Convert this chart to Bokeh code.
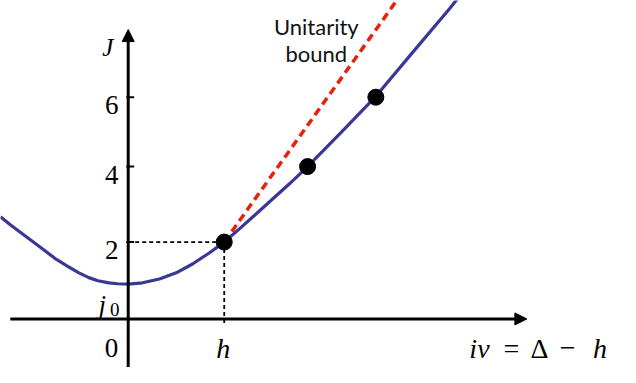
from bokeh.plotting import figure
from bokeh.models import Range1d, Arrow, NormalHead
from bokeh.core.properties import value
from bokeh.embed import file_html
from bokeh.resources import INLINE

# ---- data (x in units of h, y in units of J) ----
curve_x = [-1.33, -1.228, -1.11, -0.995, -0.87, -0.751, -0.63, -0.518, -0.41, -0.315,
           -0.2, -0.112, 0.0, 0.15, 0.325, 0.5, 0.67, 0.84, 1.0, 1.17, 1.34,
           1.685, 1.868, 2.223, 2.579, 2.934, 3.355, 3.45]
curve_J = [2.66, 2.451, 2.23, 2.015, 1.78, 1.554, 1.37, 1.205, 1.075, 0.995,
           0.94, 0.915, 0.905, 0.94, 1.04, 1.2, 1.43, 1.71, 2.0, 2.37, 2.751,
           3.53, 3.965, 4.87, 5.793, 6.853, 8.1, 8.4]

dots_x = [1.0, 1.868, 2.579]
dots_J = [2.0, 3.965, 5.77]

bound_x = [1.0, 2.80]
bound_J = [2.0, 8.3]

ytick_pos = [2.0, 3.965, 5.77]
ytick_labels = ["2", "4", "6"]

h_pos = 1.0
j0_val = 0.905

SERIF = value("'Liberation Serif', 'DejaVu Serif', serif")
SANS = value("Lato")

p = figure(width=620, height=367, output_backend="svg", toolbar_location=None,
           x_range=Range1d(-1.330, 5.127), y_range=Range1d(-1.264, 8.287),
           min_border=0)
p.xaxis.visible = False
p.yaxis.visible = False
p.grid.visible = False
p.outline_line_color = None
p.background_fill_color = "white"
p.border_fill_color = "white"

# axes with arrow heads
p.add_layout(Arrow(end=NormalHead(size=12, fill_color="black", line_color="black", line_width=1),
                   x_start=-1.228, y_start=0, x_end=4.152, y_end=0,
                   line_width=3, line_color="black"))
p.add_layout(Arrow(end=NormalHead(size=12, fill_color="black", line_color="black", line_width=1),
                   x_start=0, y_start=-1.4, x_end=0, y_end=7.53,
                   line_width=3, line_color="black"))

# ticks on J axis
p.segment(x0=[-0.02] * len(ytick_pos), x1=[0.062] * len(ytick_pos),
          y0=ytick_pos, y1=ytick_pos, line_width=2, line_color="black")

# dotted guide lines to (h, 2)
p.line([0, h_pos], [2.0, 2.0], line_color="black", line_width=1.8, line_dash="4 3")
p.line([h_pos, h_pos], [2.0, -0.15], line_color="black", line_width=1.8, line_dash="4 3")

# Regge trajectory curve
p.line(curve_x, curve_J, line_color="#3a3896", line_width=3.2, line_join="round")

# unitarity bound
p.line(bound_x, bound_J, line_color="#e8200c", line_width=3.5, line_dash="8 5")

# points
p.scatter(dots_x, dots_J, size=16, marker="circle", fill_color="black", line_color="black")

# tick labels on J axis
p.text(x=[-0.102] * 3, y=[v - 0.21 for v in ytick_pos], text=ytick_labels,
       text_font=SERIF, text_font_size="27px", text_align="right",
       text_baseline="alphabetic", text_color="black")

# J axis title
p.text(x=[-0.213], y=[7.057], text=["J"], text_font=SERIF, text_font_style="italic",
       text_font_size="25px", text_align="center", text_baseline="alphabetic")

# j0 label
p.text(x=[-0.31], y=[j0_val - 0.53], text=["j"], text_font=SERIF, text_font_style="italic",
       text_font_size="27px", text_align="left", text_baseline="alphabetic")
p.text(x=[-0.19], y=[j0_val - 0.65], text=["0"], text_font=SERIF,
       text_font_size="19px", text_align="left", text_baseline="alphabetic")

# x-axis labels
p.text(x=[-0.173], y=[-0.766], text=["0"], text_font=SERIF, text_font_size="27px",
       text_align="center", text_baseline="alphabetic")
p.text(x=[h_pos - 0.01], y=[-0.766], text=["h"], text_font=SERIF, text_font_style="italic",
       text_font_size="28px", text_align="center", text_baseline="alphabetic")

# i nu = Delta - h
p.text(x=[3.553], y=[-0.766], text=["iν"], text_font=SERIF, text_font_style="italic",
       text_font_size="28px", text_align="left", text_baseline="alphabetic")
p.text(x=[3.990, 4.284, 4.576], y=[-0.766] * 3, text=["=", "Δ", "−"], text_font=SERIF,
       text_font_size="28px", text_align="center", text_baseline="alphabetic")
p.text(x=[4.914], y=[-0.766], text=["h"], text_font=SERIF, text_font_style="italic",
       text_font_size="28px", text_align="center", text_baseline="alphabetic")

# Unitarity bound annotation
p.text(x=[1.959, 1.959], y=[7.621, 6.915], text=["Unitarity", "bound"], text_font=SANS,
       text_font_size="22px", text_align="center", text_baseline="alphabetic",
       text_color="#111111")

open("out.html", "w").write(file_html(p, INLINE))
